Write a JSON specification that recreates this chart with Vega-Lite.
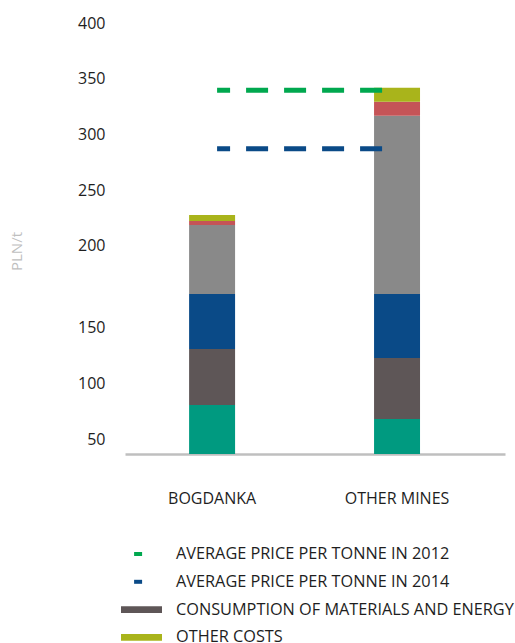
{
  "$schema": "https://vega.github.io/schema/vega-lite/v6.json",
  "width": 380,
  "height": 431,
  "autosize": {"type": "none"},
  "padding": {"left": 125, "top": 23, "right": 10, "bottom": 189},
  "background": "white",
  "config": {
    "view": {"stroke": null},
    "font": "Open Sans",
    "axis": {"labelFont": "Open Sans", "titleFont": "Open Sans", "grid": false, "ticks": false, "tickSize": 0},
    "legend": {"labelFont": "Open Sans"}
  },
  "layer": [
    {
      "data": {"values": [
        {"mine": "BOGDANKA", "series": "DEPRECIATION AND AMORTISATION", "rank": 1, "cost": 80.7},
        {"mine": "BOGDANKA", "series": "CONSUMPTION OF MATERIALS AND ENERGY", "rank": 2, "cost": 50.2},
        {"mine": "BOGDANKA", "series": "EXTERNAL SERVICES", "rank": 3, "cost": 39.6},
        {"mine": "BOGDANKA", "series": "EMPLOYEE BENEFITS", "rank": 4, "cost": 48.1},
        {"mine": "BOGDANKA", "series": "TAXES AND CHARGES", "rank": 5, "cost": 3.6},
        {"mine": "BOGDANKA", "series": "OTHER COSTS", "rank": 6, "cost": 5.4},
        {"mine": "OTHER MINES", "series": "DEPRECIATION AND AMORTISATION", "rank": 1, "cost": 68.2},
        {"mine": "OTHER MINES", "series": "CONSUMPTION OF MATERIALS AND ENERGY", "rank": 2, "cost": 54.6},
        {"mine": "OTHER MINES", "series": "EXTERNAL SERVICES", "rank": 3, "cost": 47.7},
        {"mine": "OTHER MINES", "series": "EMPLOYEE BENEFITS", "rank": 4, "cost": 146.1},
        {"mine": "OTHER MINES", "series": "TAXES AND CHARGES", "rank": 5, "cost": 12.6},
        {"mine": "OTHER MINES", "series": "OTHER COSTS", "rank": 6, "cost": 12.6}
      ]},
      "mark": {"type": "bar"},
      "encoding": {
        "x": {
          "field": "mine", "type": "nominal", "sort": ["BOGDANKA", "OTHER MINES"],
          "scale": {"paddingInner": 0.7514, "paddingOuter": 0.403, "align": 0.43},
          "axis": {"title": null, "labelAngle": 0, "labelFontSize": 16, "labelColor": "#1e1e1e", "labelPadding": 36,
                   "domainColor": "#bfbfbf", "domainWidth": 2.5,
                   "encode": {"labels": {"update": {"dx": {"signal": "datum.value === 'OTHER MINES' ? 8 : 0"}}}}}
        },
        "y": {
          "field": "cost", "type": "quantitative", "stack": "zero",
          "scale": {"domain": [36.8, 150, 200, 400], "range": [431, 304.7, 222.7, 0], "clamp": true, "zero": false, "nice": false},
          "axis": {"title": "PLN/t", "values": [50, 100, 150, 200, 250, 300, 350, 400], "domain": false,
                   "labelFontSize": 16, "labelColor": "#1e1e1e", "labelPadding": 20,
                   "titleColor": "#bfbfbf", "titleFontSize": 15, "titleFontWeight": "normal", "titleX": -101, "titleY": 228}
        },
        "order": {"field": "rank", "type": "quantitative"},
        "color": {
          "field": "series", "type": "nominal",
          "scale": {
            "domain": ["AVERAGE PRICE PER TONNE IN 2012", "AVERAGE PRICE PER TONNE IN 2014", "CONSUMPTION OF MATERIALS AND ENERGY", "OTHER COSTS", "DEPRECIATION AND AMORTISATION", "EXTERNAL SERVICES", "EMPLOYEE BENEFITS", "TAXES AND CHARGES"],
            "range": ["#00a84f", "#0a4a87", "#5e5657", "#a9b41b", "#009a80", "#0a4a87", "#898989", "#c55457"]
          },
          "legend": {
            "values": ["AVERAGE PRICE PER TONNE IN 2012", "AVERAGE PRICE PER TONNE IN 2014", "CONSUMPTION OF MATERIALS AND ENERGY", "OTHER COSTS"],
            "title": null, "orient": "none", "legendX": 6.5, "legendY": 521, "padding": 0,
            "labelFontSize": 16.3, "labelColor": "#1e1e1e", "labelLimit": 400, "labelOffset": 24.5,
            "symbolSize": 400, "rowPadding": 8.8,
            "encode": {"symbols": {"update": {
              "shape": {"signal": "indexof(datum.value, 'AVERAGE') === 0 ? 'M-0.74,-0.2H0.06V0.2H-0.74Z' : 'M-2.05,-0.33H2.05V0.33H-2.05Z'"},
              "fill": {"scale": "color", "field": "value"},
              "stroke": {"value": "transparent"},
              "strokeWidth": {"value": 0},
              "opacity": {"value": 1}
            }}}
          }
        }
      }
    },
    {
      "data": {"values": [
        {"series": "AVERAGE PRICE PER TONNE IN 2012", "price": 339.7, "mine": "BOGDANKA", "mine_end": "OTHER MINES"},
        {"series": "AVERAGE PRICE PER TONNE IN 2014", "price": 287.0, "mine": "BOGDANKA", "mine_end": "OTHER MINES"}
      ]},
      "mark": {"type": "rule", "strokeWidth": 5, "strokeDash": [22, 16], "strokeDashOffset": 9, "strokeCap": "butt", "xOffset": 5, "x2Offset": -14},
      "encoding": {
        "x": {"field": "mine", "type": "nominal"},
        "x2": {"field": "mine_end"},
        "y": {"field": "price", "type": "quantitative"},
        "color": {"field": "series", "type": "nominal"}
      }
    }
  ]
}
